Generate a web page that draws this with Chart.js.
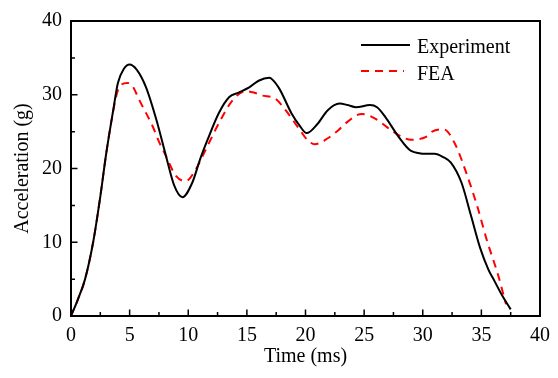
<!DOCTYPE html>
<html>
<head>
<meta charset="utf-8">
<script src="https://cdn.jsdelivr.net/npm/chart.js@4/dist/chart.umd.min.js"></script>
<style>
    html, body { margin: 0; padding: 0; background: #fff; }
    #wrap { width: 558px; height: 378px; }
</style>
</head>
<body>
<div id="wrap"><canvas id="grafico" width="558" height="378"></canvas></div>
<script>
// curvas (tempo em ms, aceleração em g)
var tempoExp = [0, 0.6, 1.2, 1.9, 2.5, 3.0, 3.6, 4.0, 4.5, 5.0, 5.6, 6.4, 7.3, 8.1, 8.8, 9.5,
    10.35, 11.0, 11.65, 12.6, 13.5, 14.3, 15.2, 16.0, 16.9, 17.7, 18.8, 19.5, 20.1, 21.0,
    21.9, 22.9, 23.6, 24.3, 25.5, 26.1, 26.8, 27.9, 29.0, 30.4, 31.0, 31.8, 32.4, 33.3,
    34.1, 34.9, 35.6, 36.1, 36.8, 37.5];
var acelExp = [0, 2.3, 5.0, 10.1, 16.2, 22.0, 27.9, 31.6, 33.5, 34.1, 33.4, 31.0, 26.5, 21.7, 17.7, 16.1,
    18.1, 21.2, 23.9, 27.5, 29.7, 30.3, 31.0, 31.9, 32.3, 31.0, 27.5, 25.8, 24.8, 26.0,
    27.9, 28.8, 28.6, 28.3, 28.6, 28.3, 27.0, 24.4, 22.4, 22.0, 22.0, 21.5, 20.8, 18.1,
    13.7, 9.2, 6.3, 4.8, 2.7, 0.9];

var tempoFea = [0, 0.6, 1.2, 1.9, 2.5, 3.0, 3.6, 4.0, 4.8, 5.2, 5.85, 6.97, 7.54, 8.1, 8.95, 9.8,
    10.65, 11.5, 12.6, 13.76, 14.9, 15.6, 16.3, 17.4, 18.3, 19.4, 20.2, 20.8, 21.9, 22.8,
    23.4, 24.8, 25.9, 27.3, 28.2, 29.0, 30.4, 30.8, 31.8, 32.7, 33.8, 34.7, 35.5, 36.4, 37.1];
var acelFea = [0, 2.3, 5.0, 10.1, 16.2, 22.0, 27.8, 30.6, 31.6, 31.3, 29.2, 25.7, 23.5, 21.7, 19.0, 18.3,
    19.9, 22.6, 26.1, 29.2, 30.5, 30.3, 29.9, 29.5, 27.9, 25.5, 23.8, 23.3, 24.1, 25.2,
    26.1, 27.4, 26.8, 25.2, 24.3, 23.9, 24.4, 25.0, 25.3, 23.5, 19.0, 14.6, 10.1, 5.7, 1.6];

var legendas = ['Experiment', 'FEA'];
var ticksX = [0, 5, 10, 15, 20, 25, 30, 35, 40];
var ticksY = [0, 10, 20, 30, 40];

var fonte = "'Liberation Serif', 'Times New Roman', serif";

function pontos(xs, ys) {
    var out = [];
    for (var i = 0; i < xs.length; i++) {
        out.push({ x: xs[i], y: ys[i] });
    }
    return out;
}

// moldura, ticks internos e legenda
var moldura = {
    id: 'moldura',
    afterDraw: function (chart) {
        var ctx = chart.ctx,
            area = chart.chartArea,
            sx = chart.scales.x,
            sy = chart.scales.y;

        ctx.save();
        ctx.strokeStyle = '#000';
        ctx.lineWidth = 2;
        ctx.strokeRect(area.left, area.top, area.right - area.left, area.bottom - area.top);

        ctx.lineWidth = 1.5;
        ctx.beginPath();
        for (var v = 0; v <= 40; v += 2.5) {
            var px = sx.getPixelForValue(v);
            var len = (v % 5 === 0) ? 6.5 : 4;
            ctx.moveTo(px, area.bottom);
            ctx.lineTo(px, area.bottom - len);
        }
        for (var w = 0; w <= 40; w += 5) {
            var py = sy.getPixelForValue(w);
            var len2 = (w % 10 === 0) ? 6.5 : 4;
            ctx.moveTo(area.left, py);
            ctx.lineTo(area.left + len2, py);
        }
        ctx.stroke();

        // legenda
        var ds = chart.data.datasets;
        var linhas = [
            { y: 45, x1: 361, x2: 410, base: 53 },
            { y: 71, x1: 361, x2: 404, base: 80 }
        ];
        ctx.font = '20px ' + fonte;
        ctx.textBaseline = 'alphabetic';
        ctx.textAlign = 'left';
        for (var i = 0; i < ds.length; i++) {
            var l = linhas[i];
            ctx.beginPath();
            ctx.lineWidth = ds[i].borderWidth;
            ctx.strokeStyle = ds[i].borderColor;
            ctx.setLineDash(ds[i].borderDash || []);
            ctx.moveTo(l.x1, l.y);
            ctx.lineTo(l.x2, l.y);
            ctx.stroke();
            ctx.setLineDash([]);
            ctx.fillStyle = '#000';
            ctx.fillText(ds[i].label, 417, l.base);
        }
        ctx.restore();
    }
};

new Chart(document.getElementById('grafico'), {
    type: 'line',
    data: {
        datasets: [{
            label: legendas[0],
            data: pontos(tempoExp, acelExp),
            borderColor: '#000',
            borderWidth: 2,
            pointRadius: 0,
            cubicInterpolationMode: 'monotone'
        }, {
            label: legendas[1],
            data: pontos(tempoFea, acelFea),
            borderColor: '#ff0000',
            borderWidth: 2,
            borderDash: [8, 6],
            pointRadius: 0,
            cubicInterpolationMode: 'monotone'
        }]
    },
    options: {
        responsive: false,
        animation: false,
        layout: { padding: { left: 0, top: 16, right: 15, bottom: 0 } },
        plugins: {
            legend: { display: false },
            tooltip: { enabled: false }
        },
        scales: {
            x: {
                type: 'linear',
                min: 0,
                max: 40,
                afterBuildTicks: function (scale) {
                    scale.ticks = ticksX.map(function (v) { return { value: v }; });
                },
                afterFit: function (scale) { scale.height = 62; },
                grid: { display: false, drawTicks: false },
                border: { display: false },
                ticks: {
                    padding: 8,
                    color: '#000',
                    maxRotation: 0,
                    font: { family: fonte, size: 20 }
                },
                title: {
                    display: true,
                    text: 'Time (ms)',
                    color: '#000',
                    padding: { top: 0, bottom: 9 },
                    font: { family: fonte, size: 20 }
                }
            },
            y: {
                min: 0,
                max: 40,
                afterBuildTicks: function (scale) {
                    scale.ticks = ticksY.map(function (v) { return { value: v }; });
                },
                afterFit: function (scale) { scale.width = 71; },
                grid: { display: false, drawTicks: false },
                border: { display: false },
                ticks: {
                    padding: 9,
                    color: '#000',
                    font: { family: fonte, size: 20 }
                },
                title: {
                    display: true,
                    text: 'Acceleration (g)',
                    color: '#000',
                    padding: { top: 11, bottom: 0 },
                    font: { family: fonte, size: 20 }
                }
            }
        }
    },
    plugins: [moldura]
});
</script>
</body>
</html>
